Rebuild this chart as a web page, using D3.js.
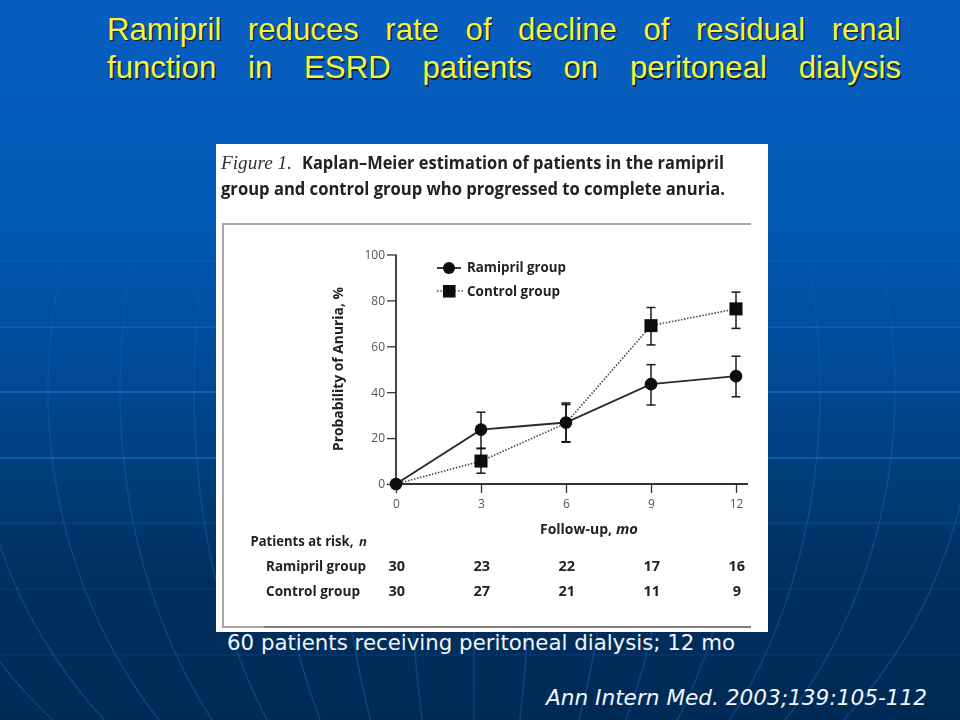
<!DOCTYPE html>
<html><head><meta charset="utf-8">
<script src="https://cdn.jsdelivr.net/npm/d3@7"></script>
<style>html,body{margin:0;padding:0;background:#003060}svg{display:block}</style>
</head><body><svg id="c" width="960" height="720"></svg>
<script>
// ---- data ----
const months = [0, 3, 6, 9, 12];
const ramiprilValues = [0, 23.7, 26.8, 43.5, 47];
const ramiprilLow = [null, 15.6, 18.2, 34.4, 38];
const ramiprilHigh = [null, 31.3, 35.3, 52, 55.7];
const controlValues = [0, 10, 26.5, 69, 76.3];
const controlLow = [null, 4.7, 18.4, 60.6, 67.8];
const controlHigh = [null, 15.4, 34.6, 76.9, 83.6];
const controlMarkerMonths = [3, 9, 12];
const ramiprilAtRisk = [30, 23, 22, 17, 16];
const controlAtRisk = [30, 27, 21, 11, 9];
const yTicks = [0, 20, 40, 60, 80, 100];
const titleLines = ["Ramipril reduces rate of decline of residual renal", "function in ESRD patients on peritoneal dialysis"];
// decoration of the slide background
const gridRows = [[130,.04],[196,.1],[261,.28],[327,.5],[392,.7],[458,.7],[523,.2],[589,.14],[655,.14]];
const meridians = [-570,-500,-426,-354,-280,-208,-140,-70,0,62,142,205,275,346,421,500];

const svg = d3.select("#c");
const defs = svg.append("defs");
const bg = defs.append("linearGradient").attr("id","bg").attr("x1",0).attr("x2",0).attr("y1",0).attr("y2",1);
[[0,"#085ec0"],[.3,"#0059b4"],[.5,"#004b98"],[.65,"#003f7c"],[.8,"#00305f"],[1,"#002a56"]]
  .forEach(s=>bg.append("stop").attr("offset",s[0]).attr("stop-color",s[1]));
const mg = defs.append("linearGradient").attr("id","mg").attr("gradientUnits","userSpaceOnUse").attr("x1",0).attr("x2",0).attr("y1",0).attr("y2",720);
[[.28,0],[.45,.14],[.62,.26],[1,.3]].forEach(s=>mg.append("stop").attr("offset",s[0]).attr("stop-color","#2a7ee0").attr("stop-opacity",s[1]));
const blur = defs.append("filter").attr("id","soft").attr("x","-2%").attr("y","-2%").attr("width","104%").attr("height","104%");
blur.append("feGaussianBlur").attr("stdDeviation",0.5);

svg.append("rect").attr("width",960).attr("height",720).attr("fill","url(#bg)");

// background globe lines
const bgG = svg.append("g").attr("fill","none");
bgG.selectAll("line").data(gridRows).join("line")
  .attr("x1",0).attr("x2",960).attr("y1",d=>d[0]).attr("y2",d=>d[0])
  .attr("stroke","#1f74e6").attr("stroke-width",1.3).attr("stroke-opacity",d=>d[1]);
const bulge = y => Math.sqrt(Math.max(0,1-((y-390)/490)**2));
const lat = d3.range(200,721,10);
const meridian = d3.line().x(d=>d[0]).y(d=>d[1]).curve(d3.curveBasis);
bgG.selectAll("path").data(meridians).join("path")
  .attr("d",o=>meridian(lat.map(y=>[474+o*bulge(y),y])))
  .attr("stroke","url(#mg)").attr("stroke-width",1.4);

// slide title, justified
const titleG = svg.append("g").attr("font-family","'Liberation Sans',Arial,sans-serif").attr("font-size",31.2);
titleLines.forEach((t,i)=>{
  const yb = [39.5,78][i];
  const main = titleG.append("text").attr("x",107).attr("y",yb).attr("fill","#f6f63c")
    .style("text-shadow","1.5px 1.6px 0.6px #0a2340").text(t);
  const w = main.node().getComputedTextLength();
  main.attr("word-spacing",(794-w)/(t.split(" ").length-1));
});

// white figure panel
svg.append("rect").attr("x",216).attr("y",144).attr("width",552).attr("height",488).attr("fill","#fff");
const fig = svg.append("g").attr("filter","url(#soft)").attr("font-family","'Open Sans',sans-serif").attr("fill","#222");
const put = (txt,x,y,len,size,weight,extra={})=>{
  const n = fig.append("text").attr("x",x).attr("y",y).attr("font-size",size).attr("font-weight",weight).text(txt);
  if(len) n.attr("textLength",len).attr("lengthAdjust","spacingAndGlyphs");
  Object.entries(extra).forEach(([k,v])=>n.attr(k,v));
  return n;
};
put("Figure 1.",221,169,71,19,400,{"font-family":"'Liberation Serif',serif","font-style":"italic",fill:"#333"});
put("Kaplan–Meier estimation of patients in the ramipril",302,169,422,17,700);
put("group and control group who progressed to complete anuria.",221,195,504,17,700);

// inner frame
fig.append("path").attr("d","M751,224H223V627H264").attr("fill","none").attr("stroke","#a8a8a8").attr("stroke-width",2);
fig.append("path").attr("d","M264,627H751").attr("fill","none").attr("stroke","#555").attr("stroke-width",1.6);

// scales
const x = d3.scaleLinear().domain([0,12]).range([396,736]);
const y = d3.scaleLinear().domain([0,100]).range([484,254.5]);

// axes
const axisY = fig.append("g").attr("transform","translate(396,0)").call(d3.axisLeft(y).tickValues(yTicks).tickSize(9).tickPadding(2));
const axisX = fig.append("g").attr("transform","translate(0,484)").call(d3.axisBottom(x).tickValues(months).tickSize(9).tickPadding(6));
[axisY,axisX].forEach(a=>{
  a.selectAll("text").attr("font-family","'Open Sans',sans-serif").attr("font-size",12).attr("fill","#555");
  a.selectAll("line").attr("stroke","#333").attr("stroke-width",1.3);
  a.select(".domain").attr("stroke","none");
});
fig.append("line").attr("x1",x(0)).attr("x2",748).attr("y1",y(0)).attr("y2",y(0)).attr("stroke","#333").attr("stroke-width",1.8);
fig.append("line").attr("x1",x(0)).attr("x2",x(0)).attr("y1",y(100)).attr("y2",y(0)).attr("stroke","#333").attr("stroke-width",1.8);

const series = (values) => months.map((m,i)=>[m,values[i]]);
const ln = d3.line().x(d=>x(d[0])).y(d=>y(d[1]));

// error bars
const errs = (low,high)=>{
  const g = fig.append("g").attr("stroke","#1a1a1a").attr("stroke-width",1.5);
  months.forEach((m,i)=>{
    if(low[i]===null) return;
    g.append("line").attr("x1",x(m)).attr("x2",x(m)).attr("y1",y(low[i])).attr("y2",y(high[i]));
    [low[i],high[i]].forEach(v=>g.append("line").attr("x1",x(m)-4.5).attr("x2",x(m)+4.5).attr("y1",y(v)).attr("y2",y(v)));
  });
};
errs(controlLow,controlHigh);
errs(ramiprilLow,ramiprilHigh);

// lines
fig.append("path").attr("d",ln(series(controlValues))).attr("fill","none").attr("stroke","#444").attr("stroke-width",1.6).attr("stroke-dasharray","1.5 1.6");
fig.append("path").attr("d",ln(series(ramiprilValues))).attr("fill","none").attr("stroke","#2a2a2a").attr("stroke-width",1.9);

// markers
const sq = 13;
fig.append("g").selectAll("rect").data(controlMarkerMonths).join("rect")
  .attr("x",m=>x(m)-sq/2).attr("y",m=>y(controlValues[months.indexOf(m)])-sq/2)
  .attr("width",sq).attr("height",sq).attr("fill","#0a0a0a");
fig.append("g").selectAll("circle").data(months).join("circle")
  .attr("cx",m=>x(m)).attr("cy",(m,i)=>y(ramiprilValues[i])).attr("r",6.3).attr("fill","#0a0a0a");

// legend
fig.append("line").attr("x1",437).attr("x2",461).attr("y1",268).attr("y2",268).attr("stroke","#222").attr("stroke-width",1.8);
fig.append("circle").attr("cx",449).attr("cy",268).attr("r",6).attr("fill","#0a0a0a");
fig.append("line").attr("x1",437).attr("x2",464).attr("y1",291).attr("y2",291).attr("stroke","#444").attr("stroke-width",1.5).attr("stroke-dasharray","1.5 2");
fig.append("rect").attr("x",443).attr("y",285).attr("width",12.5).attr("height",12.5).attr("fill","#0a0a0a");
put("Ramipril group",467,272,99,14.5,700);
put("Control group",467,296,93,14.5,700);

// axis titles
fig.append("text").attr("transform","translate(343,369) rotate(-90)").attr("text-anchor","middle")
  .attr("font-size",14).attr("font-weight",700).attr("textLength",164).attr("lengthAdjust","spacingAndGlyphs").text("Probability of Anuria, %");
put("Follow-up,",540,534,72,14.5,700);
put("mo",616,534,22,14.5,700,{"font-style":"italic"});

// at-risk table
const par = fig.append("text").attr("font-size",14).attr("font-weight",700).text("Patients at risk,");
par.attr("transform",`translate(250.5,546) scale(${103/par.node().getComputedTextLength()},1)`);
put("n",359,546,null,13,700,{"font-style":"italic"});
put("Ramipril group",266,571,100,14.5,700);
put("Control group",266,595.5,94,14.5,700);
[[ramiprilAtRisk,571],[controlAtRisk,596]].forEach(([vals,yb])=>{
  fig.append("g").selectAll("text").data(vals).join("text")
    .attr("x",(d,i)=>x(months[i])+0.8).attr("y",yb).attr("text-anchor","middle")
    .attr("font-size",14.5).attr("font-weight",700).text(d=>d);
});

// slide notes
svg.append("text").attr("x",227).attr("y",650).attr("font-family","'DejaVu Sans',sans-serif").attr("font-size",20.5)
  .attr("fill","#f2f6fb").attr("textLength",508).attr("lengthAdjust","spacingAndGlyphs").text("60 patients receiving peritoneal dialysis; 12 mo");
svg.append("text").attr("x",546).attr("y",705).attr("font-family","'DejaVu Sans',sans-serif").attr("font-style","italic").attr("font-size",20.5)
  .attr("fill","#f2f6fb").attr("textLength",381).attr("lengthAdjust","spacingAndGlyphs").text("Ann Intern Med. 2003;139:105-112");
</script></body></html>
